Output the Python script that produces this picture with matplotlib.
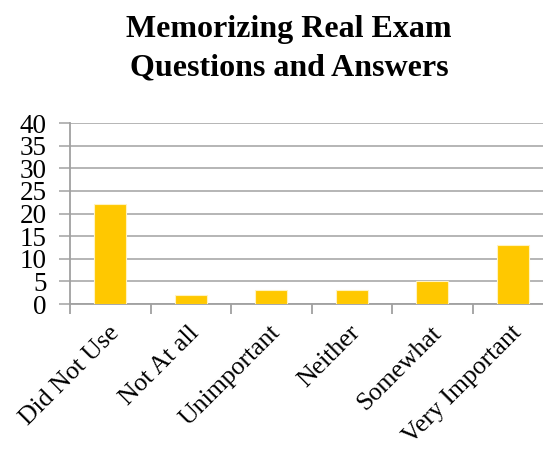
import matplotlib
matplotlib.use("Agg")
import matplotlib.pyplot as plt

categories = ["Did Not Use", "Not At all", "Unimportant", "Neither", "Somewhat", "Very Important"]
counts = [22, 2, 3, 3, 5, 13]
yticks = [0, 5, 10, 15, 20, 25, 30, 35, 40]

W, H = 543, 450
fig = plt.figure(figsize=(W / 100, H / 100), dpi=100)
plt.rcParams["font.family"] = ["Liberation Serif", "DejaVu Serif"]

# axes box in pixels: x 70..553, y 123..304
ax = fig.add_axes([70 / W, 1 - 304 / H, (553 - 70) / W, (304 - 123) / H])
x = list(range(len(categories)))
ax.bar(x, counts, width=0.4, color="#FFC800", edgecolor="#FFF3C0", linewidth=0.8, zorder=3)

ax.set_xlim(-0.5, len(categories) - 0.5)
ax.set_ylim(0, 40)
ax.set_yticks(yticks)
ax.set_yticklabels([str(v) for v in yticks], fontsize=19.5)
ax.yaxis.grid(True, color="#B0B0B0", linewidth=1.3, zorder=0)
ax.tick_params(axis="y", length=8, color="#B0B0B0", width=1.3, pad=9)

ax.set_xticks([i - 0.5 for i in range(len(categories) + 1)])
ax.set_xticklabels([])
ax.tick_params(axis="x", length=7, color="#A0A0A0", width=1.3)
for i, c in enumerate(categories):
    ax.text(i - 0.03, -3.9, c, rotation=45, ha="right", va="top",
            rotation_mode="anchor", fontsize=18.5, transform=ax.transData,
            clip_on=False)

for s in ["top", "right"]:
    ax.spines[s].set_visible(False)
ax.spines["left"].set_color("#A0A0A0")
ax.spines["left"].set_linewidth(1.3)
ax.spines["bottom"].set_color("#A0A0A0")
ax.spines["bottom"].set_linewidth(1.3)

fig.text(289 / W, 1 - 30 / H, "Memorizing Real Exam", ha="center", va="center",
         fontsize=23, fontweight="bold")
fig.text(289 / W, 1 - 68 / H, "Questions and Answers", ha="center", va="center",
         fontsize=23, fontweight="bold")

fig.savefig("out.png", dpi=100)
